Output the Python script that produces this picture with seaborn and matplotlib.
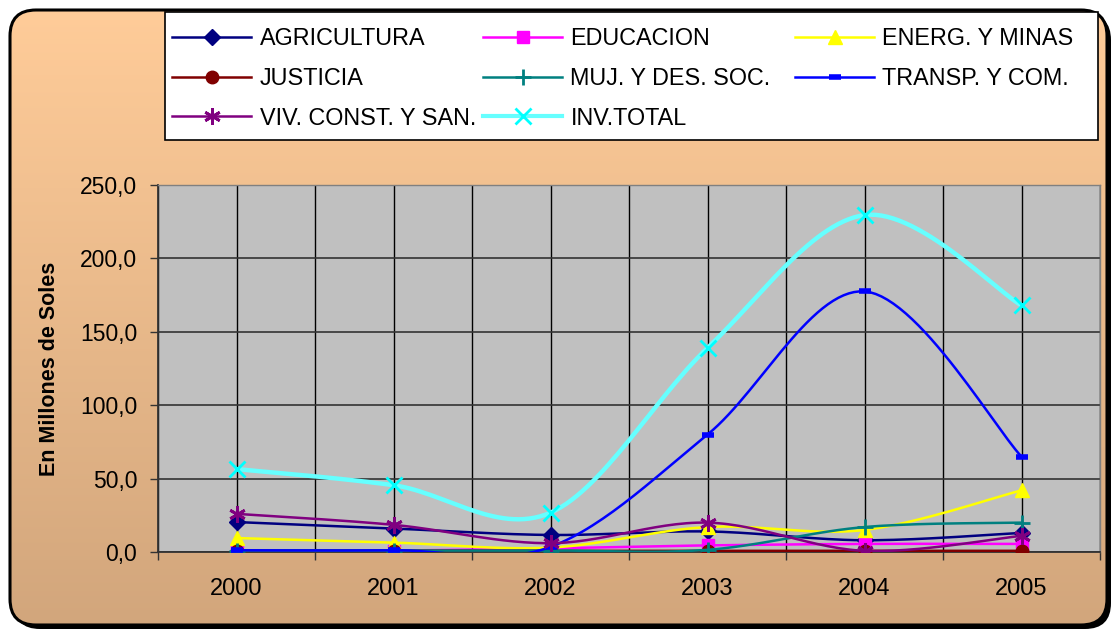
import numpy as np
import pandas as pd
import matplotlib
matplotlib.use("Agg")
import matplotlib.pyplot as plt
import seaborn as sns
from matplotlib.patches import FancyBboxPatch, Rectangle
from matplotlib.lines import Line2D
from matplotlib.ticker import FuncFormatter, FixedLocator

# ---------------- data ----------------
years = ["2000", "2001", "2002", "2003", "2004", "2005"]
agricultura = [20.4, 16.0, 11.6, 14.0, 8.0, 13.0]
educacion = [1.0, 1.0, 2.5, 4.5, 5.5, 5.5]
energ_minas = [9.5, 6.4, 3.0, 17.0, 15.0, 42.0]
justicia = [1.0, 1.0, 0.8, 0.8, 0.8, 0.8]
muj_des_soc = [1.0, 1.0, 1.0, 1.5, 17.0, 20.0]
transp_com = [1.2, 1.2, 3.5, 80.0, 177.5, 65.0]
viv_const_san = [26.0, 18.5, 6.0, 20.0, 0.8, 11.0]
inv_total = [56.5, 45.5, 26.8, 139.0, 229.5, 168.0]

series_names = ["AGRICULTURA", "EDUCACION", "ENERG. Y MINAS", "JUSTICIA",
                "MUJ. Y DES. SOC.", "TRANSP. Y COM.", "VIV. CONST. Y SAN.", "INV.TOTAL"]
series_values = [agricultura, educacion, energ_minas, justicia,
                 muj_des_soc, transp_com, viv_const_san, inv_total]
y_ticks = [0, 50, 100, 150, 200, 250]

# ---------------- styles ----------------
styles = {
    "AGRICULTURA": dict(color="#000080", marker="D", ms=8, lw=1.8, mfc="#000080"),
    "EDUCACION": dict(color="#FF00FF", marker="s", ms=8, lw=1.8, mfc="#FF00FF"),
    "ENERG. Y MINAS": dict(color="#FFFF00", marker="^", ms=10, lw=1.8, mfc="#FFFF00"),
    "JUSTICIA": dict(color="#800000", marker="o", ms=9, lw=1.8, mfc="#800000"),
    "MUJ. Y DES. SOC.": dict(color="#008080", marker="+", ms=11, lw=1.8, mfc="#008080"),
    "TRANSP. Y COM.": dict(color="#0000FF", marker="_", ms=8, lw=1.8, mfc="#0000FF"),
    "VIV. CONST. Y SAN.": dict(color="#800080", marker=(6, 2, 0), ms=12, lw=1.8, mfc="#800080"),
    "INV.TOTAL": dict(color="#66FFFF", marker="x", ms=11, lw=3.2, mfc="#00FFFF"),
}

W, H = 1113, 630
fig = plt.figure(figsize=(W / 100, H / 100), dpi=100)
fig.patch.set_facecolor("white")

# ---------------- background ----------------
bg = fig.add_axes([0, 0, 1, 1], zorder=-5)
bg.set_xlim(0, W)
bg.set_ylim(H, 0)
bg.axis("off")
bx0, by0, bx1, by1, r = 10, 10, 1107, 625, 26
shadow = FancyBboxPatch((bx0 + 4 + r, by0 + 4 + r), bx1 - bx0 - 2 * r, by1 - by0 - 2 * r,
                        boxstyle=f"round,pad={r}", fc="black", ec="black", lw=0)
bg.add_patch(shadow)
frame = FancyBboxPatch((bx0 + r, by0 + r), bx1 - bx0 - 2 * r, by1 - by0 - 2 * r,
                       boxstyle=f"round,pad={r}", fc="none", ec="black", lw=2.2, zorder=3)
grad = np.linspace(0, 1, 256)[:, None]
c_top = np.array([255, 204, 153]) / 255
c_bot = np.array([210, 166, 124]) / 255
img = c_top[None, None, :] * (1 - grad[..., None]) + c_bot[None, None, :] * grad[..., None]
img = np.repeat(img, 2, axis=1)
im = bg.imshow(img, extent=(bx0, bx1, by1, by0), aspect="auto", zorder=1)
clip = FancyBboxPatch((bx0 + r, by0 + r), bx1 - bx0 - 2 * r, by1 - by0 - 2 * r,
                      boxstyle=f"round,pad={r}", fc="none", ec="none", transform=bg.transData)
im.set_clip_path(clip)
bg.add_patch(frame)
# legend box
bg.add_patch(Rectangle((165, 12), 1098 - 165, 140 - 12, fc="white", ec="black", lw=1.2, zorder=4))

# ---------------- plot area ----------------
left, right, top, bottom = 158, 1100, 185, 552
ax = fig.add_axes([left / W, 1 - bottom / H, (right - left) / W, (bottom - top) / H])
ax.set_facecolor("#C0C0C0")

x = np.arange(len(years))


def catmull_rom(xs, ys, n=30):
    P = np.column_stack([xs, ys]).astype(float)
    P = np.vstack([P[0], P, P[-1]])
    out = []
    for i in range(1, len(P) - 2):
        p0, p1, p2, p3 = P[i - 1], P[i], P[i + 1], P[i + 2]
        c1 = p1 + (p2 - p0) / 6.0
        c2 = p2 - (p3 - p1) / 6.0
        t = np.linspace(0, 1, n, endpoint=(i == len(P) - 3))[:, None]
        seg = ((1 - t) ** 3) * p1 + 3 * ((1 - t) ** 2) * t * c1 + 3 * (1 - t) * t ** 2 * c2 + t ** 3 * p2
        out.append(seg)
    out = np.vstack(out)
    return out[:, 0], out[:, 1]


handles = []
for zi, (name, vals) in enumerate(zip(series_names, series_values)):
    st = styles[name]
    sx, sy = catmull_rom(x, vals)
    df = pd.DataFrame({"x": sx, "y": sy})
    sns.lineplot(data=df, x="x", y="y", ax=ax, color=st["color"], lw=st["lw"],
                 sort=False, estimator=None, zorder=3 + zi)
    mew = 2.0 if st["marker"] in ("+", "x", (6, 2, 0)) else 1
    if st["marker"] == "_":
        mew = 4
    mcol = st["mfc"]
    ax.plot(x, vals, linestyle="none", marker=st["marker"], ms=st["ms"], mfc=mcol,
            mec=mcol, mew=mew, zorder=3 + zi)
    handles.append(Line2D([0], [0], color=st["color"], lw=st["lw"] if name != "INV.TOTAL" else 3.0,
                          marker=st["marker"], ms=st["ms"], mfc=mcol, mec=mcol, mew=mew))

ax.set_xlim(-0.5, len(years) - 0.5)
ax.set_ylim(0, 250)

# grid
for gx in np.arange(-0.5, len(years), 0.5):
    ax.axvline(gx, color="black", lw=1.0, zorder=1)
for gy in y_ticks:
    ax.axhline(gy, color="#333333", lw=1.2, zorder=1)

ax.yaxis.set_major_locator(FixedLocator(y_ticks))
ax.yaxis.set_major_formatter(FuncFormatter(lambda v, p: f"{v:.1f}".replace(".", ",")))
ax.set_xticks(np.arange(-0.5, len(years), 1.0))
ax.set_xticklabels([""] * (len(years) + 1))
ax.set_xticks(x, minor=True)
ax.set_xticklabels(years, minor=True)
ax.tick_params(axis="x", which="minor", length=0, pad=19, labelsize=17)
ax.tick_params(axis="x", which="major", length=6, width=1, color="#333333")
ax.tick_params(axis="y", length=6, width=1, color="#333333", labelsize=16.5, pad=9)
for lab in ax.get_xticklabels(minor=True) + ax.get_yticklabels():
    lab.set_fontfamily("Liberation Sans")
    lab.set_color("black")
ax.set_xlabel("")
ax.set_ylabel("En Millones de Soles", fontsize=15.5, fontweight="bold",
              fontfamily="Liberation Sans")
ax.yaxis.set_label_coords((60 - left) / (right - left), 0.5)
for s in ["top", "right"]:
    ax.spines[s].set_color("#808080")
    ax.spines[s].set_linewidth(1)
for s in ["left", "bottom"]:
    ax.spines[s].set_color("#333333")
    ax.spines[s].set_linewidth(1.3)

# legend: three columns, filled row-wise as in the reference
columns = [[0, 3, 6], [1, 4, 7], [2, 5]]
col_x = [172, 483, 795]
for cols, cx in zip(columns, col_x):
    leg = fig.legend([handles[i] for i in cols], [series_names[i] for i in cols],
                     ncol=1, loc="upper left",
                     bbox_to_anchor=((cx - 14) / W, 1 - 13 / H),
                     borderaxespad=0, frameon=False,
                     prop={"family": "Liberation Sans", "size": 16.8},
                     handlelength=3.4, handletextpad=0.35, labelspacing=0.72,
                     borderpad=0.6)
    leg.set_zorder(10)

fig.savefig("out.png", dpi=100)
